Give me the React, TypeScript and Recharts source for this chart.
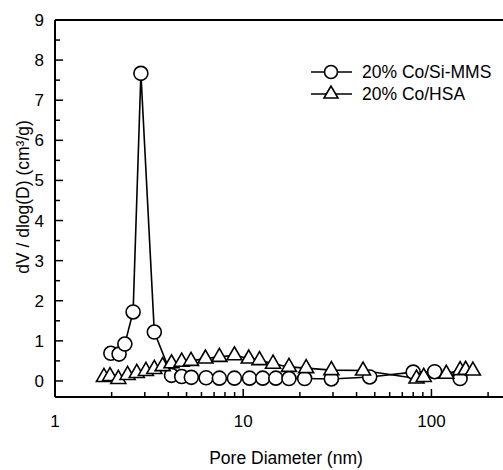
import { LineChart, Line, XAxis, YAxis, ReferenceLine } from 'recharts';

const FONT = '"Liberation Sans", Arial, sans-serif';

// Pore diameter (nm) / dV/dlog(D) (cm3/g)
const MMS_D = [1.98, 2.19, 2.35, 2.6, 2.86, 3.37, 4.16, 4.71, 5.3, 6.35, 7.47, 8.98, 10.8, 12.7, 14.9, 17.5, 21.2, 29.4, 47, 80, 104, 142];
const MMS_V = [0.69, 0.67, 0.92, 1.72, 7.67, 1.22, 0.14, 0.11, 0.09, 0.08, 0.07, 0.07, 0.07, 0.07, 0.07, 0.06, 0.06, 0.05, 0.1, 0.22, 0.23, 0.06];

const HSA_D = [1.82, 1.96, 2.17, 2.43, 2.72, 3.04, 3.37, 3.73, 4.16, 4.71, 5.28, 6.3, 7.47, 8.98, 10.7, 12.2, 14.4, 17.5, 21.6, 29.4, 43.3, 83.3, 91, 120, 142, 152, 166];
const HSA_V = [0.1, 0.12, 0.05, 0.15, 0.2, 0.25, 0.3, 0.37, 0.44, 0.48, 0.5, 0.56, 0.6, 0.64, 0.56, 0.52, 0.43, 0.35, 0.32, 0.27, 0.26, 0.06, 0.1, 0.18, 0.27, 0.28, 0.26];

const X_TICKS = [1, 2, 3, 4, 5, 6, 7, 8, 9, 10, 20, 30, 40, 50, 60, 70, 80, 90, 100, 200];
const X_LABELS = [1, 10, 100];
const Y_TICKS = [0, 0.5, 1, 1.5, 2, 2.5, 3, 3.5, 4, 4.5, 5, 5.5, 6, 6.5, 7, 7.5, 8, 8.5, 9];
const SERIES_NAMES = ['20% Co/Si-MMS', '20% Co/HSA'];

const mmsData = MMS_D.map((d, i) => ({ d, v: MMS_V[i] }));
const hsaData = HSA_D.map((d, i) => ({ d, v: HSA_V[i] }));

function XTick({ x, y, payload }: any) {
  const major = X_LABELS.includes(payload.value);
  return (
    <g>
      <line x1={x} y1={y} x2={x} y2={y - (major ? 8 : 5)} stroke="#000" strokeWidth={1.5} />
      {major && (
        <text x={x} y={y + 30} textAnchor="middle" fontSize={17} fontFamily={FONT} fill="#000">
          {payload.value}
        </text>
      )}
    </g>
  );
}

function YTick({ x, y, payload }: any) {
  const major = Number.isInteger(payload.value);
  return (
    <g>
      <line x1={x} y1={y} x2={x + (major ? 8 : 5)} y2={y} stroke="#000" strokeWidth={1.5} />
      {major && (
        <text x={x - 11} y={y + 6} textAnchor="end" fontSize={17} fontFamily={FONT} fill="#000">
          {payload.value}
        </text>
      )}
    </g>
  );
}

function Triangle({ cx, cy }: any) {
  if (cx == null || cy == null) return null;
  const pts = `${cx},${cy - 8.5} ${cx - 7.5},${cy + 4.5} ${cx + 7.5},${cy + 4.5}`;
  return <polygon points={pts} fill="#fff" stroke="#000" strokeWidth={1.6} />;
}

function LegendBox() {
  return (
    <div
      style={{
        position: 'absolute',
        left: 310,
        top: 61,
        fontFamily: FONT,
        fontSize: 17.5,
        color: '#000',
      }}
    >
      {SERIES_NAMES.map((name, i) => (
        <div key={name} style={{ display: 'flex', alignItems: 'center', height: 22 }}>
          <svg width={52} height={20}>
            <line x1={1} y1={10} x2={42} y2={10} stroke="#000" strokeWidth={1.6} />
            {i === 0 ? (
              <circle cx={21} cy={10} r={6.5} fill="#fff" stroke="#000" strokeWidth={1.6} />
            ) : (
              <polygon points="21,2 14,14 28,14" fill="#fff" stroke="#000" strokeWidth={1.6} />
            )}
          </svg>
          <span>{name}</span>
        </div>
      ))}
    </div>
  );
}

export default function App() {
  return (
    <div style={{ position: 'absolute', left: 0, top: 0, width: 503, height: 470, background: '#fff' }}>
      <LineChart width={503} height={470} margin={{ top: 20, right: 0, left: 0, bottom: 0 }}>
        <XAxis
          dataKey="d"
          type="number"
          scale="log"
          domain={[1, 240]}
          allowDataOverflow
          ticks={X_TICKS}
          interval={0}
          tickSize={0}
          tickMargin={0}
          tickLine={false}
          tick={<XTick />}
          axisLine={{ stroke: '#000', strokeWidth: 2 }}
          height={73}
          label={{
            value: 'Pore Diameter (nm)',
            position: 'insideBottom',
            offset: 6,
            dx: 7,
            fontSize: 17.5,
            fontFamily: FONT,
            fill: '#000',
          }}
        />
        <YAxis
          type="number"
          domain={[-0.4, 9]}
          allowDataOverflow
          ticks={Y_TICKS}
          interval={0}
          tickSize={0}
          tickMargin={0}
          tickLine={false}
          tick={<YTick />}
          axisLine={{ stroke: '#000', strokeWidth: 2 }}
          width={55}
          label={{
            content: () => (
              <text
                x={23}
                y={197}
                transform="rotate(-90 23 197)"
                textAnchor="middle"
                dominantBaseline="central"
                fontSize={17.5}
                fontFamily={FONT}
                fill="#000"
              >
                dV / dlog(D) (cm³/g)
              </text>
            ),
          }}
        />
        <ReferenceLine y={9} stroke="#000" strokeWidth={2} />
        <Line
          data={mmsData}
          dataKey="v"
          name={SERIES_NAMES[0]}
          stroke="#000"
          strokeWidth={1.6}
          dot={{ r: 7, fill: '#fff', stroke: '#000', strokeWidth: 1.6 }}
          isAnimationActive={false}
        />
        <Line
          data={hsaData}
          dataKey="v"
          name={SERIES_NAMES[1]}
          stroke="#000"
          strokeWidth={1.6}
          dot={<Triangle />}
          isAnimationActive={false}
        />
      </LineChart>
      <LegendBox />
    </div>
  );
}
